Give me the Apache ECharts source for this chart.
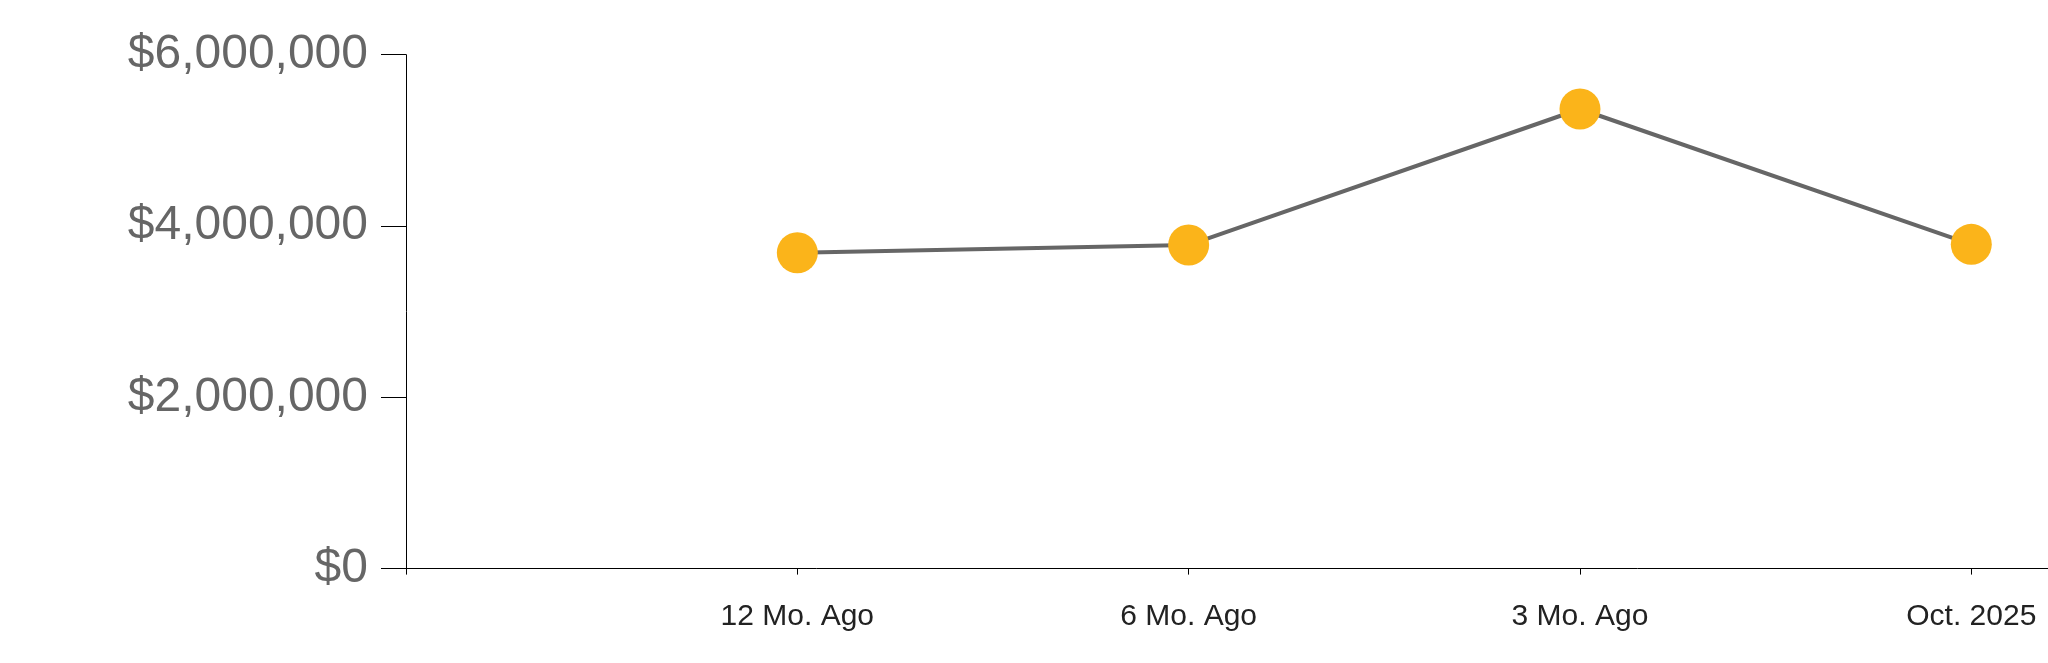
<!DOCTYPE html>
<html>
<head>
<meta charset="utf-8">
<script src="https://cdn.jsdelivr.net/npm/echarts@6/dist/echarts.min.js"></script>
<style>
html,body{margin:0;padding:0;background:#fff;}
#chart{width:2048px;height:663px;}
</style>
</head>
<body>
<div id="chart"></div>
<script>
// Categories placed at positions 0..3 of the x scale (slot -1 is the empty start of the axis)
const categories = ['12 Mo. Ago', '6 Mo. Ago', '3 Mo. Ago', 'Oct. 2025'];
const values = [3688000, 3778000, 5366000, 3786000];
const yTicks = [0, 2000000, 4000000, 6000000];

const seriesData = categories.map((c, i) => [i, values[i]]);
const catPositions = categories.map((c, i) => i);

const chart = echarts.init(document.getElementById('chart'), null, {renderer: 'canvas'});
chart.setOption({
  animation: false,
  backgroundColor: '#ffffff',
  grid: {left: 406, top: 54.7, height: 513.9, right: 0, containLabel: false},
  xAxis: {
    type: 'value',
    min: -1,
    max: 3.196,
    interval: 1,
    axisLine: {show: true, onZero: false, lineStyle: {color: '#000', width: 1}},
    axisTick: {show: true, length: 6, customValues: [-1].concat(catPositions), lineStyle: {color: '#000', width: 1}},
    axisLabel: {
      margin: 33,
      color: '#222',
      fontSize: 30,
      fontFamily: '"Liberation Sans", Arial, sans-serif',
      customValues: catPositions,
      formatter: v => categories[Math.round(v)] || ''
    },
    splitLine: {show: false}
  },
  yAxis: {
    type: 'value',
    min: yTicks[0],
    max: yTicks[yTicks.length - 1],
    interval: 2000000,
    axisLine: {show: true, onZero: false, lineStyle: {color: '#000', width: 1}},
    axisTick: {show: true, length: 25, lineStyle: {color: '#000', width: 1}},
    axisLabel: {
      margin: 38,
      color: '#666',
      fontSize: 48,
      fontFamily: '"Liberation Sans", Arial, sans-serif',
      formatter: v => '$' + v.toLocaleString('en-US')
    },
    splitLine: {show: false}
  },
  series: [{
    type: 'line',
    data: seriesData,
    symbol: 'circle',
    symbolSize: 41,
    showAllSymbol: true,
    lineStyle: {color: '#666666', width: 4},
    itemStyle: {color: '#FBB41A', borderWidth: 0},
    z: 3
  }]
});
</script>
</body>
</html>
